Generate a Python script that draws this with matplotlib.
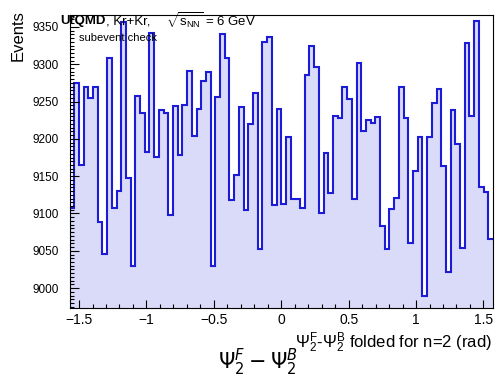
import numpy as np
import matplotlib.pyplot as plt
from matplotlib.ticker import MultipleLocator

plt.rcParams['font.family'] = ['Liberation Sans', 'DejaVu Sans']
plt.rcParams['mathtext.fontset'] = 'custom'
plt.rcParams['mathtext.rm'] = 'Liberation Sans'
plt.rcParams['mathtext.it'] = 'Liberation Sans:italic'
plt.rcParams['mathtext.bf'] = 'Liberation Sans:bold'

# ---- data: 90 bins of Psi2F - Psi2B folded into [-pi/2, pi/2] ----
n_bins = 90
x_lo, x_hi = -np.pi / 2, np.pi / 2
counts = [9108, 9275, 9165, 9270, 9255, 9270, 9088, 9046, 9308, 9108,
          9130, 9357, 9147, 9030, 9257, 9234, 9183, 9342, 9176, 9239,
          9234, 9098, 9244, 9179, 9246, 9291, 9204, 9240, 9278, 9289,
          9030, 9256, 9341, 9309, 9118, 9151, 9243, 9104, 9220, 9261,
          9053, 9330, 9337, 9112, 9240, 9113, 9202, 9119, 9119, 9108,
          9285, 9324, 9296, 9100, 9181, 9128, 9231, 9228, 9269, 9253,
          9120, 9302, 9211, 9225, 9221, 9229, 9083, 9053, 9106, 9121,
          9270, 9228, 9061, 9157, 9203, 8990, 9202, 9248, 9267, 9163,
          9021, 9239, 9193, 9054, 9329, 9230, 9358, 9136, 9129, 9066]
y_lo, y_hi = 8974, 9366
x_ticks = [-1.5, -1, -0.5, 0, 0.5, 1, 1.5]
x_ticklabels = ['\u22121.5', '\u22121', '\u22120.5', '0', '0.5', '1', '1.5']
y_ticks = [9000, 9050, 9100, 9150, 9200, 9250, 9300, 9350]

edges = np.linspace(x_lo, x_hi, n_bins + 1)

W, H = 497, 382
fig = plt.figure(figsize=(W / 100, H / 100), dpi=100)
ax = fig.add_axes([69.5 / W, 1 - 307.5 / H, 423.5 / W, 292.5 / H])

# fill down to the frame, then the blue outline on top
ax.stairs(counts, edges, baseline=y_lo, fill=True, color='#dadaf9', lw=0)
ax.stairs(counts, edges, baseline=None, color='#1c1cd8', lw=1.5)

ax.set_xlim(x_lo, x_hi)
ax.set_ylim(y_lo, y_hi)
ax.set_xticks(x_ticks)
ax.set_xticklabels(x_ticklabels)
ax.set_yticks(y_ticks)
ax.xaxis.set_minor_locator(MultipleLocator(0.1))
ax.yaxis.set_minor_locator(MultipleLocator(5))
ax.tick_params(which='both', direction='in', top=False, right=False, width=0.8)
ax.tick_params(axis='x', which='major', length=5.5, labelsize=10, pad=4)
ax.tick_params(axis='x', which='minor', length=2.8)
ax.tick_params(axis='y', which='major', length=6.5, labelsize=8.5, pad=8)
ax.tick_params(axis='y', which='minor', length=3.2)
for sp in ax.spines.values():
    sp.set_linewidth(0.8)

# texts (ROOT-style labels)
fig.text(18 / W, 1 - 10 / H, 'Events', rotation=90, ha='center', va='top', fontsize=12)
fig.text(492 / W, 1 - 343 / H, r'$\Psi_{2}^{\rm F}$-$\Psi_{2}^{\rm B}$ folded for n=2 (rad)',
         ha='right', va='center', fontsize=12)
fig.text(257.5 / W, 1 - 362 / H, r'$\Psi_2^F - \Psi_2^B$', ha='center', va='center',
         fontsize=15, math_fontfamily='dejavusans')
fig.text(60 / W, 1 - 21 / H, 'UrQMD', fontweight='bold', ha='left', va='center', fontsize=9.5)
fig.text(106 / W, 1 - 21 / H, ', Kr+Kr,', ha='left', va='center', fontsize=9.5)
fig.text(166 / W, 1 - 21 / H, r'$\sqrt{\rm s_{NN}}$ = 6 GeV', ha='left', va='center', fontsize=9.5)
fig.text(79 / W, 1 - 38 / H, 'subevent check', ha='left', va='center', fontsize=8)

fig.savefig('out.png', dpi=100)
